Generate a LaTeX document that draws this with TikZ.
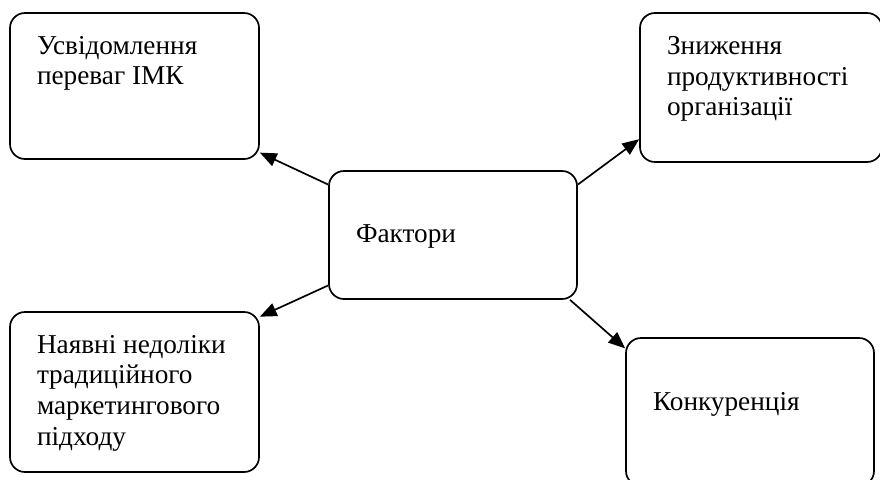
\documentclass[tikz,border=0pt]{standalone}
\usepackage{fontspec}
\setmainfont{Liberation Serif}
\usetikzlibrary{arrows.meta}

\begin{document}
\begin{tikzpicture}[font=\fontsize{19.4}{22}\selectfont,
 box/.style n args={3}{draw,line width=1.2pt,rounded corners=0.375cm,inner xsep=0.675cm,inner ysep=0.575cm,
  execute at begin node={\begin{minipage}[c][#2][t]{#1}\raggedright\vspace*{#3}},
  execute at end node={\end{minipage}}},
 arr/.style={-{Triangle[length=0.42cm,width=0.34cm]},line width=1.2pt}]
\useasboundingbox (0,0) rectangle (22,-11.975);
\node[box={4.85cm}{2.05cm}{0.775cm}] (fakt) at (11.325,-5.875) {Фактори};
\node[box={4.875cm}{2.5cm}{0pt}] (imk) at (3.3625,-2.15) {Усвідомлення\\переваг ІМК};
\node[box={4.7cm}{2.575cm}{0pt}] (prod) at (19.025,-2.1875) {Зниження\\продуктивності\\організації};
\node[box={4.875cm}{2.85cm}{0pt}] (nedol) at (3.3625,-9.8) {Наявні недоліки\\традиційного\\маркетингового\\підходу};
\node[box={4.85cm}{2.55cm}{0.775cm}] (konk) at (18.75,-10.3) {Конкуренція};
\foreach \a/\b in {fakt.158/imk.-28,fakt.22/prod.203,fakt.202/nedol.31,fakt.-29/konk.153}
 \draw[arr] (\a) -- (\b);
\end{tikzpicture}
\end{document}
